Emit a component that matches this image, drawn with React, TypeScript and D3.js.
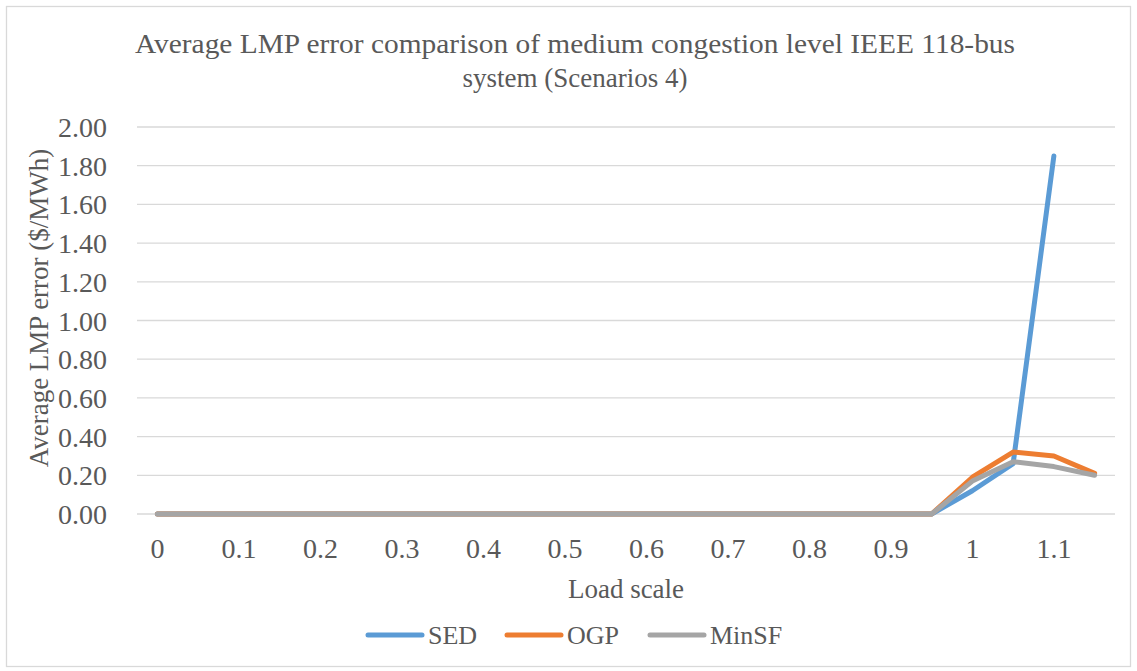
import React, { useEffect, useRef } from "react";
import * as d3 from "d3";

// Load-scale categories (every 0.05 from 0 to 1.15)
const categories = [
  "0", "0.05", "0.1", "0.15", "0.2", "0.25", "0.3", "0.35", "0.4", "0.45",
  "0.5", "0.55", "0.6", "0.65", "0.7", "0.75", "0.8", "0.85", "0.9", "0.95",
  "1", "1.05", "1.1", "1.15",
];

// Average LMP error ($/MWh) per method; SED has no result at 1.15
const sedValues: (number | null)[] = [
  0, 0, 0, 0, 0, 0, 0, 0, 0, 0, 0, 0, 0, 0, 0, 0, 0, 0, 0, 0,
  0.12, 0.26, 1.85, null,
];
const ogpValues: (number | null)[] = [
  0, 0, 0, 0, 0, 0, 0, 0, 0, 0, 0, 0, 0, 0, 0, 0, 0, 0, 0, 0,
  0.19, 0.32, 0.3, 0.21,
];
const minsfValues: (number | null)[] = [
  0, 0, 0, 0, 0, 0, 0, 0, 0, 0, 0, 0, 0, 0, 0, 0, 0, 0, 0, 0,
  0.17, 0.27, 0.245, 0.2,
];

const seriesNames = ["SED", "OGP", "MinSF"];
const seriesColors = ["#5B9BD5", "#ED7D31", "#A5A5A5"];
const yTicks = [0, 0.2, 0.4, 0.6, 0.8, 1.0, 1.2, 1.4, 1.6, 1.8, 2.0];

const titleLines = [
  "Average LMP error comparison of medium congestion level IEEE 118-bus",
  "system (Scenarios 4)",
];

const W = 1137;
const H = 671;
const FONT = "'Liberation Serif', Tinos, 'Times New Roman', serif";
const TEXT = "#595959";

export default function App() {
  const ref = useRef<SVGSVGElement | null>(null);

  useEffect(() => {
    const svg = d3.select(ref.current);
    svg.selectAll("*").remove();

    svg.append("style").text(`text { font-family: ${FONT} !important; }`);

    const x = d3.scalePoint<string>().domain(categories).range([137, 1115]).padding(0.5);
    const y = d3.scaleLinear().domain([0, 2]).range([514, 127]);

    const label = (sel: d3.Selection<SVGTextElement, unknown, null, undefined>, size: number) =>
      sel.attr("font-family", FONT).attr("font-size", size).attr("fill", TEXT);

    svg
      .append("rect")
      .attr("x", 6.5)
      .attr("y", 6.5)
      .attr("width", W - 13)
      .attr("height", H - 11)
      .attr("fill", "#fff")
      .attr("stroke", "#D9D9D9")
      .attr("stroke-width", 1.3);

    // Title (first line spans the full title width)
    label(svg.append("text"), 27)
      .attr("x", 575)
      .attr("y", 53)
      .attr("text-anchor", "middle")
      .attr("textLength", 880)
      .attr("lengthAdjust", "spacingAndGlyphs")
      .text(titleLines[0]);
    label(svg.append("text"), 27)
      .attr("x", 575)
      .attr("y", 87)
      .attr("text-anchor", "middle")
      .text(titleLines[1]);

    // Gridlines and y tick labels
    yTicks.forEach((t) => {
      svg
        .append("line")
        .attr("x1", 137)
        .attr("x2", 1115)
        .attr("y1", y(t))
        .attr("y2", y(t))
        .attr("stroke", "#D9D9D9")
        .attr("stroke-width", 1.3);
      label(svg.append("text"), 28)
        .attr("x", 107)
        .attr("y", y(t) + 10)
        .attr("text-anchor", "end")
        .text(t.toFixed(2));
    });

    // X tick labels, every other category
    categories.forEach((c, i) => {
      if (i % 2 !== 0) return;
      label(svg.append("text"), 28)
        .attr("x", x(c) as number)
        .attr("y", 558)
        .attr("text-anchor", "middle")
        .text(c);
    });

    // Series lines
    const line = d3
      .line<number | null>()
      .defined((d) => d !== null)
      .x((_, i) => x(categories[i]) as number)
      .y((d) => y(d as number));

    [sedValues, ogpValues, minsfValues].forEach((vals, k) => {
      svg
        .append("path")
        .attr("d", line(vals) || "")
        .attr("fill", "none")
        .attr("stroke", seriesColors[k])
        .attr("stroke-width", 5)
        .attr("stroke-linejoin", "round")
        .attr("stroke-linecap", "round");
    });

    // Axis titles
    label(svg.append("text"), 27)
      .attr("x", 626)
      .attr("y", 598)
      .attr("text-anchor", "middle")
      .text("Load scale");
    label(svg.append("text"), 27)
      .attr("transform", "translate(48,308) rotate(-90)")
      .attr("text-anchor", "middle")
      .text("Average LMP error ($/MWh)");

    // Legend
    const legendX = [368, 507, 650];
    seriesNames.forEach((name, k) => {
      svg
        .append("line")
        .attr("x1", legendX[k])
        .attr("x2", legendX[k] + 54)
        .attr("y1", 635)
        .attr("y2", 635)
        .attr("stroke", seriesColors[k])
        .attr("stroke-width", 5)
        .attr("stroke-linecap", "round");
      label(svg.append("text"), 26)
        .attr("x", legendX[k] + 60)
        .attr("y", 644)
        .text(name);
    });
  }, []);

  return (
    <svg
      ref={ref}
      width={W}
      height={H}
      style={{ position: "absolute", left: 0, top: 0, background: "#fff" }}
    />
  );
}
